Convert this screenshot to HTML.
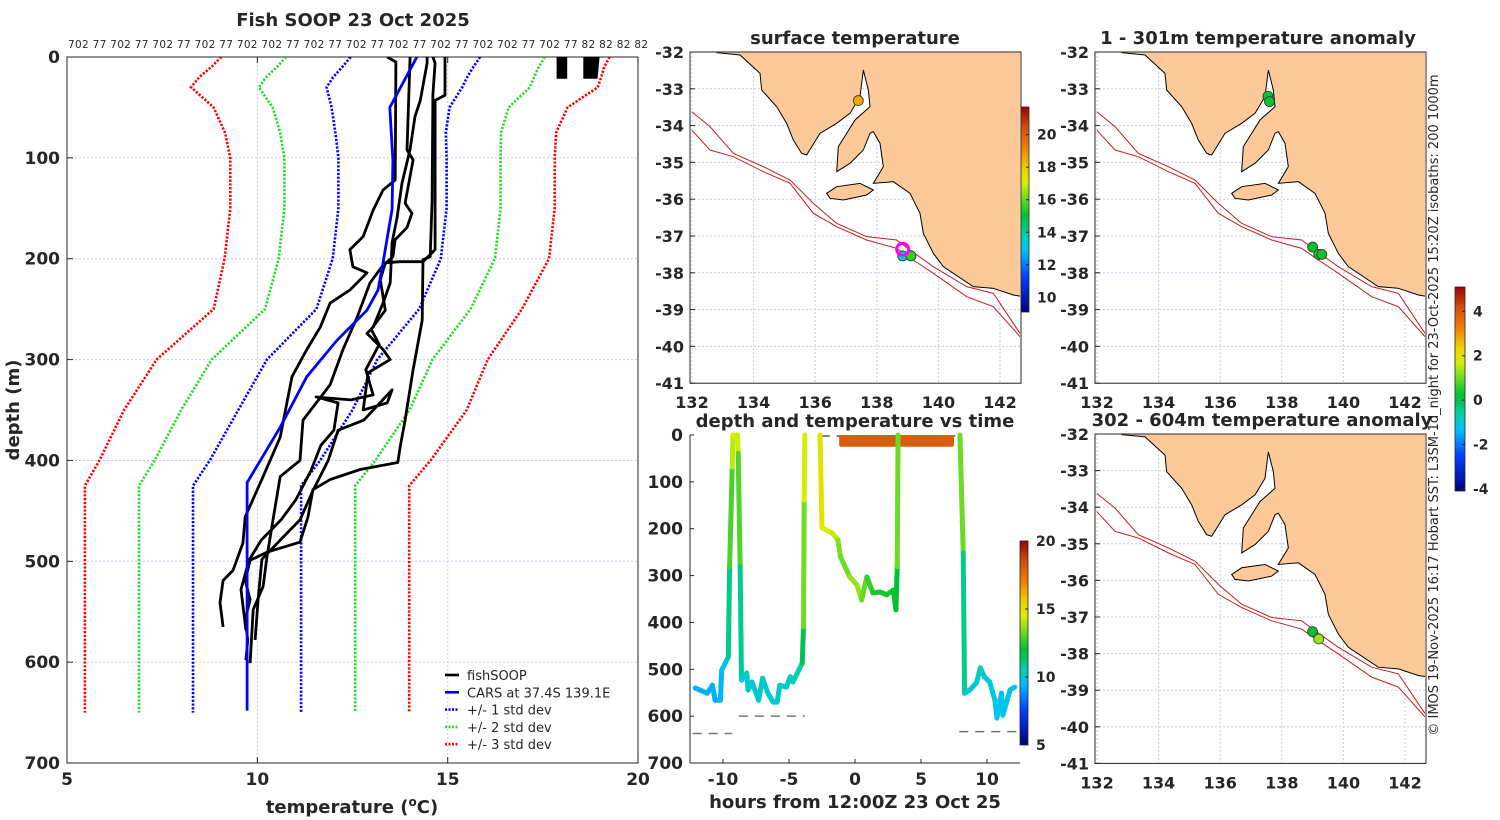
<!DOCTYPE html>
<html><head><meta charset="utf-8"><title>Fish SOOP 23 Oct 2025</title>
<style>
html,body{margin:0;padding:0;background:#fff;}
svg{display:block;}
text{font-family:"DejaVu Sans","Liberation Sans",sans-serif;fill:#262626;}
.b{font-weight:bold;}
</style></head>
<body>
<svg id="fig" width="1500" height="820" viewBox="0 0 1500 820" xmlns="http://www.w3.org/2000/svg">
<defs>
<linearGradient id="jet" x1="0" y1="1" x2="0" y2="0">
<stop offset="0" stop-color="#000080"/><stop offset="0.17" stop-color="#0040ff"/><stop offset="0.3" stop-color="#00c0ff"/>
<stop offset="0.37" stop-color="#00d0b0"/><stop offset="0.47" stop-color="#00c030"/><stop offset="0.57" stop-color="#80e020"/>
<stop offset="0.63" stop-color="#d8f000"/><stop offset="0.7" stop-color="#f0d000"/><stop offset="0.8" stop-color="#f08000"/>
<stop offset="0.9" stop-color="#d05010"/><stop offset="1" stop-color="#a00000"/>
</linearGradient>
<clipPath id="mapclip"><rect x="35" y="38" width="985" height="987"/></clipPath>
<clipPath id="mainclip"><rect x="67" y="57" width="571" height="706"/></clipPath>
<g id="coast">
<g clip-path="url(#mapclip)">
<polygon fill="#fdc998" stroke="#000" stroke-width="3" points="110,38 180,45 240,100 245,150 290,200 320,250 340,300 365,340 380,345 420,280 470,250 510,220 540,170 550,90 565,150 570,200 525,240 500,280 475,320 470,395 510,370 550,330 570,280 580,275 600,310 610,380 580,430 640,425 690,460 720,520 730,580 760,640 790,680 880,740 940,745 1000,765 1030,770 1030,30 100,30"/>
<polygon fill="#fdc998" stroke="#000" stroke-width="3" points="440,460 470,440 540,430 580,450 560,465 490,480 450,475"/>
<polyline fill="none" stroke="#c02020" stroke-width="3" points="35,215 90,260 160,340 250,380 330,420 400,490 470,550 560,590 650,600 690,630 760,680 860,740 940,760 1020,880"/>
<polyline fill="none" stroke="#c02020" stroke-width="3" points="35,270 90,330 160,350 250,395 330,430 400,520 470,560 560,600 650,625 700,660 760,700 860,770 940,800 1020,890"/>
</g>
</g>
</defs>
<rect width="1500" height="820" fill="#fff"/>
<g id="main"></g>
<g id="maps"></g>
<g id="timep"></g>
<text x="1438" y="405" font-size="13" text-anchor="middle" transform="rotate(-90 1438 405)">© IMOS 19-Nov-2025 16:17 Hobart SST: L3SM-1d_night for 23-Oct-2025 15:20Z isobaths: 200  1000m</text>
</svg>
<script>
// ---------- main profile panel data ----------
const carsDepth=[0,50,102,151,204,231,251,281,317,367,422,648];
const carsTemp=[14.19,13.48,13.56,13.54,13.30,13.17,12.88,12.09,11.30,10.60,9.73,9.73];
const stdDepth=[0,10,20,30,50,75,100,150,200,250,300,350,400,425,650];
const stdMean=[14.15,13.95,13.75,13.6,13.5,13.5,13.55,13.55,13.4,12.9,11.7,11.0,10.2,9.73,9.73];
const stdSigma=[1.7,1.72,1.76,1.78,1.55,1.45,1.42,1.42,1.42,1.35,1.45,1.5,1.45,1.42,1.42];
const prof1T=[13.41,13.64,13.62,13.30,13.04,12.78,12.43,12.51,12.88,12.43,11.91,11.65,11.30,10.91,10.60,10.15,9.68,9.62,9.36,9.10,9.02,9.10];
const prof1D=[0,5,122,132,152,178,191,208,214,231,244,268,290,317,377,416,456,482,509,519,541,565];
const prof2T=[14.01,14.01,13.93,14.09,13.88,14.06,13.93,13.62,13.56,13.27,12.96,12.62,12.25,11.91,11.20,11.12,10.60,10.41,10.25,10.15,9.89,9.81];
const prof2D=[0,3,92,102,145,155,169,181,198,208,224,258,290,325,360,400,416,459,496,525,548,601];
const prof3T=[14.46,14.46,14.28,14.14,14.01,13.80,13.67,13.54,13.49,13.30,13.04,12.88,13.30,13.49,12.91,12.78,13.41,13.54,12.80,12.12,11.86,11.46,11.12,10.60,10.12,10.02,9.94];
const prof3D=[0,6,43,59,92,125,159,184,224,244,268,274,290,300,313,350,343,330,360,370,400,430,459,479,498,538,578];
const prof4T=[14.61,14.67,14.61,14.59,14.54,14.35,14.33,14.09,13.88,13.75,13.69,12.70,11.91,11.46,11.33,11.12,10.25,9.81,9.68,9.81,9.68,9.75,9.70];
const prof4D=[0,6,37,142,198,201,261,310,360,387,402,409,419,429,456,481,491,499,519,538,558,578,598];
const prof5T=[14.93,14.93,14.67,14.67,14.35,13.75,13.36,13.23,13.36,12.99,13.20,12.85,13.04,12.46,11.80,11.54,12.12,12.01,11.67,11.41,11.01,10.62,10.10,9.78,9.57,9.70];
const prof5D=[0,38,43,191,203,203,204,221,251,270,285,310,335,340,338,337,343,370,385,410,439,459,479,499,528,568];
const blobT=[17.9,18.1,18.1,17.9,17.9,null,18.6,18.95,18.9,18.6,18.6];
const blobD=[0,0,20,20,0,null,0,0,20,20,0];
const xTicks=[5,10,15,20];
const yTicks=[0,100,200,300,400,500,600,700];
const topLabels="702 77 702 77 702 77 702 77 702 702 77 702 77 702 77 702 77 702 77 702 702 77 702 77 82 82 82 82";

// ---------- time panel data ----------
const tHours=[-12.1,-11.2,-10.8,-10.6,-10.2,-10.1,-9.6,-9.5,-9.3,-9.25,-8.9,-8.85,-8.7,-8.6,-8.2,-8.1,-7.8,-7.3,-7.0,-6.6,-6.2,-5.9,-5.7,-5.2,-4.9,-4.7,-4.0,-3.9,-3.85,-3.8,null,-2.65,-2.5,-1.74,-1.3,-1.1,-0.4,0.15,0.5,0.9,1.36,1.9,2.4,2.9,3.1,3.2,3.26,null,7.95,8.2,8.3,8.7,9.2,9.5,9.8,10.2,10.6,10.75,11.1,11.2,11.75,12.1];
const tDepth=[540,551,534,566,566,502,474,281,68,0,0,39,281,523,508,544,527,566,519,551,570,570,534,538,516,527,487,410,139,0,null,0,198,209,224,260,303,320,352,303,337,335,341,331,373,281,0,null,0,252,551,544,529,497,516,527,566,604,551,598,544,538];
const tTemp=[9.2,9.2,9.3,9.2,9.2,9.5,10,12,13.8,14.5,14.5,14.2,11.8,10,10.2,10.1,10.2,10.1,10.2,10.1,10,10.1,10.2,10.2,10.3,10.3,10.8,12.5,14.2,14.6,null,15,14.6,14.4,14,13,13.6,14,13.6,12.8,12.4,12.3,12.3,12.3,12,12,14.6,null,14.6,12,10,10,10.1,10.3,10.2,10.1,10,9.6,9.9,9.6,9.8,9.8];
const surfHours=[-1.2,7.5];
const surfDepth=[0,25];
const surfTemp=18.1;
const floorHours=[[-12.3,-9.3],[-8.8,-3.8],[7.9,12.3]];
const floorDepth=[637,600,633];
const tXTicks=[-10,-5,0,5,10];
const tYTicks=[0,100,200,300,400,500,600,700];
const tCbTicks=[5,10,15,20];

// ---------- map data ----------
const mapLonTicks=[132,134,136,138,140,142];
const mapLatTicks=[-32,-33,-34,-35,-36,-37,-38,-39,-40,-41];
const sstLon=[137.4,138.84,139.11];
const sstLat=[-33.32,-37.54,-37.54];
const sstVal=[18.6,13.5,15.5];
const anom1Lon=[137.55,137.6,139.0,139.2,139.3];
const anom1Lat=[-33.2,-33.35,-37.3,-37.5,-37.5];
const anom1Val=[0.3,0.3,0.2,0.4,0.3];
const anom2Lon=[139.0,139.2];
const anom2Lat=[-37.4,-37.6];
const anom2Val=[0.2,1.3];
const sstCbTicks=[10,12,14,16,18,20];
const anomCbTicks=[-4,-2,0,2,4];

const NS="http://www.w3.org/2000/svg";
function mk(tag,attrs,parent){const e=document.createElementNS(NS,tag);for(const k in attrs)e.setAttribute(k,attrs[k]);parent.appendChild(e);return e;}
function txt(s,x,y,size,anchor,parent,bold){const t=mk('text',{x:x,y:y,'font-size':size,'text-anchor':anchor||'middle'},parent);if(bold)t.setAttribute('class','b');t.textContent=s;return t;}

const cmStops=[[0,[0,0,128]],[0.17,[0,64,255]],[0.3,[0,192,255]],[0.37,[0,208,176]],[0.47,[0,192,48]],[0.57,[128,224,32]],[0.63,[216,240,0]],[0.7,[240,208,0]],[0.8,[240,128,0]],[0.9,[208,80,16]],[1,[160,0,0]]];
function cmap(f){f=Math.max(0,Math.min(1,f));for(let i=1;i<cmStops.length;i++){if(f<=cmStops[i][0]){const a=cmStops[i-1],b=cmStops[i];const u=(f-a[0])/(b[0]-a[0]);const c=a[1].map((v,j)=>Math.round(v+(b[1][j]-v)*u));return `rgb(${c[0]},${c[1]},${c[2]})`;}}return 'rgb(160,0,0)';}

// ================= MAIN PANEL =================
const main=document.getElementById('main');
const mx=t=>67+(t-5)*38.07, my=d=>57+d*1.0086;
const mt=txt('Fish SOOP 23 Oct 2025',353,26,18,'middle',main,true);


const tl=txt(topLabels,358,48,10.5,'middle',main);


tl.setAttribute('textLength','580');
[10,15].forEach(v=>{const l=mk('line',{x1:mx(v),x2:mx(v),y1:57,y2:763,stroke:'#c8cce8','stroke-width':1,'stroke-dasharray':'2 2'},main);

});
yTicks.slice(1,-1).forEach(v=>{const l=mk('line',{x1:67,x2:638,y1:my(v),y2:my(v),stroke:'#c8cce8','stroke-width':1,'stroke-dasharray':'2 2'},main);

});
const mf=mk('rect',{x:67,y:57,width:571,height:706,fill:'none',stroke:'#262626','stroke-width':1},main);


xTicks.forEach(v=>{mk('line',{x1:mx(v),x2:mx(v),y1:763,y2:757,stroke:'#262626'},main);mk('line',{x1:mx(v),x2:mx(v),y1:57,y2:63,stroke:'#262626'},main);
const t=txt(String(v),mx(v),785,17,'middle',main,true);

});
yTicks.forEach(v=>{mk('line',{x1:67,x2:73,y1:my(v),y2:my(v),stroke:'#262626'},main);
const t=txt(String(v),60,my(v)+6,17,'end',main,true);

});
const xl=mk('text',{x:352,y:813,'font-size':18,'text-anchor':'middle',class:'b'},main);
xl.innerHTML='temperature (<tspan font-size="12" dy="-7">o</tspan><tspan dy="7">C)</tspan>';


const yl=txt('depth (m)',19,410,18,'middle',main,true);yl.setAttribute('transform','rotate(-90 19 410)');



const mplot=mk('g',{'clip-path':'url(#mainclip)'},main);
function pathFrom(T,D){let s='',pen=false;for(let i=0;i<T.length;i++){if(T[i]==null){pen=false;continue;}s+=(pen?'L':'M')+mx(T[i]).toFixed(1)+','+my(D[i]).toFixed(1);pen=true;}return s;}
const stdCols=[['#0000ff',1],['#22dd22',2],['#ff0000',3]];
stdCols.forEach(([c,k])=>{[-1,1].forEach(sg=>{
const T=stdMean.map((m,i)=>m+sg*k*stdSigma[i]);
const p=mk('path',{d:pathFrom(T,stdDepth),fill:'none',stroke:c,'stroke-width':2.6,'stroke-dasharray':'2.2 1.6'},mplot);

});});
[[prof1T,prof1D],[prof2T,prof2D],[prof3T,prof3D],[prof4T,prof4D],[prof5T,prof5D]].forEach(([T,D])=>{
const p=mk('path',{d:pathFrom(T,D),fill:'none',stroke:'#000','stroke-width':2.8,'stroke-linejoin':'round'},mplot);

});
const bl=mk('path',{d:pathFrom(blobT,blobD),fill:'#000',stroke:'#000','stroke-width':3},mplot);


const cars=mk('path',{d:pathFrom(carsTemp,carsDepth),fill:'none',stroke:'#0000ff','stroke-width':2.8},mplot);


const leg=mk('g',{},main);


[['fishSOOP','#000',''],['CARS at 37.4S 139.1E','#0000ff',''],['+/- 1 std dev','#0000ff','2 1.5'],['+/- 2 std dev','#22dd22','2 1.5'],['+/- 3 std dev','#ff0000','2 1.5']].forEach((e,i)=>{
const y=675+i*17.3;const a={x1:445,x2:459,y1:y,y2:y,stroke:e[1],'stroke-width':2.6};if(e[2])a['stroke-dasharray']=e[2];mk('line',a,leg);
const t=txt(e[0],467,y+5,13,'start',leg);

});

// ================= MAPS =================
const maps=document.getElementById('maps');
const mapDefs=[{x0:692,y0:52,sy:36.8,tx:0,ty:0,title:'surface temperature',tcx:855,lon:sstLon,lat:sstLat,val:sstVal,vmin:9.1,vmax:21.7,name:'surface-temp-map'},
{x0:1097,y0:52,sy:36.8,tx:405,ty:0,title:'1 - 301m temperature anomaly',tcx:1258,lon:anom1Lon,lat:anom1Lat,val:anom1Val,vmin:-4.1,vmax:5.1,name:'anomaly-1-301m-map'},
{x0:1097,y0:434,sy:36.6,tx:405,ty:382,title:'302 - 604m temperature anomaly',tcx:1262,lon:anom2Lon,lat:anom2Lat,val:anom2Val,vmin:-4.1,vmax:5.1,name:'anomaly-302-604m-map'}];
mapDefs.forEach((m,mi)=>{
const g=mk('g',{},maps);


const lx=lon=>m.x0+(lon-132)*30.8, ly=lat=>m.y0+(-32-lat)*m.sy;
mapLonTicks.forEach(v=>mk('line',{x1:lx(v),x2:lx(v),y1:ly(-32),y2:ly(-41),stroke:'#c8cce8','stroke-dasharray':'2 2'},g));
mapLatTicks.forEach(v=>mk('line',{x1:m.x0-2,x2:m.x0+329,y1:ly(v),y2:ly(v),stroke:'#c8cce8','stroke-dasharray':'2 2'},g));
const cg=mk('g',{transform:`translate(${680+m.tx},${40+m.ty}) scale(${1/3} ${(mi==2?0.994:1)/3})`},g);
mk('use',{href:'#coast'},cg);
mk('rect',{x:m.x0-2,y:m.y0,width:331,height:m.sy*9,fill:'none',stroke:'#262626'},g);
m.lon.forEach((lo,i)=>{const c=mk('circle',{cx:lx(lo),cy:ly(m.lat[i]),r:5,fill:cmap((m.val[i]-m.vmin)/(m.vmax-m.vmin)),stroke:'#333','stroke-width':0.8},g);

});
if(mi==0){const r=mk('circle',{cx:lx(138.84),cy:ly(-37.36),r:6,fill:'none',stroke:'#ff00ff','stroke-width':3},g);

}
const tt=txt(m.title,m.tcx,m.y0-8,18,'middle',g,true);


mapLatTicks.forEach(v=>{mk('line',{x1:m.x0-2,x2:m.x0+3,y1:ly(v),y2:ly(v),stroke:'#262626'},g);
const t=txt(String(v),m.x0-8,ly(v)+6,16,'end',g,true);

});
mapLonTicks.forEach(v=>{const t=txt(String(v),lx(v),m.y0+m.sy*9+25,16,'middle',g,true);

});
});
function colorbar(x,y0,y1,vmin,vmax,ticks,w,name,parent){
const g=mk('g',{},parent);


mk('rect',{x:x,y:y0,width:w,height:y1-y0,fill:'url(#jet)',stroke:'#262626','stroke-width':0.8},g);
ticks.forEach(v=>{const y=y1-(v-vmin)/(vmax-vmin)*(y1-y0);mk('line',{x1:x+w-3,x2:x+w,y1:y,y2:y,stroke:'#262626'},g);
const t=txt(String(v),x+w+8,y+5,14,'start',g,true);

});}
colorbar(1021,107,312,9.1,21.7,sstCbTicks,8,'sst-colorbar',maps);
colorbar(1455,287,491,-4.1,5.1,anomCbTicks,10,'anomaly-colorbar',maps);

// ================= TIME PANEL =================
const tp=document.getElementById('timep');
const hx=h=>723+(h+10)*13.2, dy=d=>435+d*0.4686;
const tt=txt('depth and temperature vs time',855,427,18,'middle',tp,true);


mk('line',{x1:690,x2:690,y1:435,y2:763,stroke:'#262626'},tp);
mk('line',{x1:690,x2:1020,y1:763,y2:763,stroke:'#262626'},tp);
tXTicks.forEach(v=>{mk('line',{x1:hx(v),x2:hx(v),y1:763,y2:759,stroke:'#262626'},tp);
const t=txt(String(v),hx(v),785,17,'middle',tp,true);

});
tYTicks.forEach(v=>{mk('line',{x1:690,x2:694,y1:dy(v),y2:dy(v),stroke:'#262626'},tp);
const t=txt(String(v),683,dy(v)+6,17,'end',tp,true);

});
const txl=txt('hours from 12:00Z 23 Oct 25',855,808,18,'middle',tp,true);


floorHours.forEach((h,i)=>{const l=mk('line',{x1:hx(h[0]),x2:hx(h[1]),y1:dy(floorDepth[i]),y2:dy(floorDepth[i]),stroke:'#777','stroke-width':1.5,'stroke-dasharray':'9 7'},tp);

});
mk('line',{x1:hx(-2.6),x2:hx(7.6),y1:dy(0)+1,y2:dy(0)+1,stroke:'#555','stroke-width':1.5,'stroke-dasharray':'9 7'},tp);
const sb=mk('rect',{x:hx(surfHours[0]),y:dy(surfDepth[0]),width:hx(surfHours[1])-hx(surfHours[0]),height:dy(surfDepth[1])-dy(surfDepth[0]),fill:cmap((surfTemp-5)/15),rx:2},tp);


for(let i=1;i<tHours.length;i++){if(tHours[i]==null||tHours[i-1]==null)continue;
const l=mk('line',{x1:hx(tHours[i-1]),y1:dy(tDepth[i-1]),x2:hx(tHours[i]),y2:dy(tDepth[i]),stroke:cmap(((tTemp[i]+tTemp[i-1])/2-5)/15),'stroke-width':5,'stroke-linecap':'round'},tp);

}
colorbar(1020,541,745,5,20,tCbTicks,8,'time-colorbar',tp);
</script>
</body></html>
